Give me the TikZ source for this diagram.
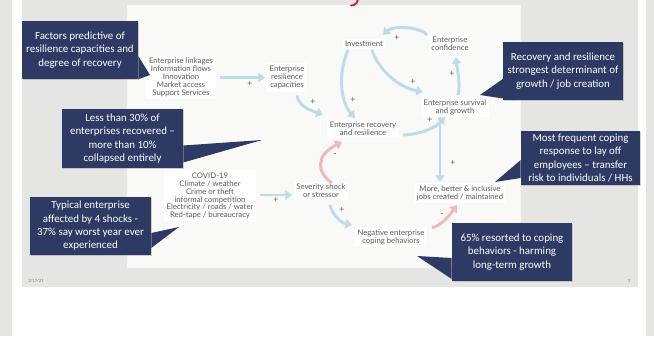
\documentclass[tikz,border=0pt]{standalone}
\usepackage{fontspec}
\setmainfont{Carlito}
\newfontfamily\diagfont{Lato}
\usetikzlibrary{arrows.meta,calc,shadows}
\definecolor{SlideGrey}{HTML}{E5E5E4}
\definecolor{PanelWhite}{HTML}{F9F9F7}
\definecolor{CallNavy}{HTML}{2D3A64}
\definecolor{LoopBlue}{HTML}{BDDCEA}
\definecolor{LoopRed}{HTML}{F1B7BB}
\definecolor{LabelGrey}{HTML}{5A5A5A}
\definecolor{TitleRed}{HTML}{C1272D}

\begin{document}
\begin{tikzpicture}[x=0.75pt,y=-0.75pt,
  factor/.style={fill=white,text=LabelGrey,font=\diagfont\fontsize{5.8}{5.9}\selectfont,align=center,inner sep=2pt},
  sign/.style={text=LabelGrey,font=\diagfont\fontsize{6.5}{6.5}\selectfont,inner sep=0pt},
  insight/.style={fill=CallNavy,text=white,font=\fontsize{8.2}{10}\selectfont,align=center,inner sep=0pt,
    drop shadow={shadow xshift=1pt,shadow yshift=-1pt,opacity=.35}},
  flow/.style={LoopBlue,line width=2.2pt,-{Triangle[width=7pt,length=5pt]}},
  drag/.style={flow,LoopRed}]
\path[use as bounding box] (0,0) rectangle (654,336);
\fill[white] (0,0) rectangle (654,336);
\fill[SlideGrey] (0,0) rectangle (12,336);
\fill[SlideGrey] (646,0) rectangle (654,336);
\fill[SlideGrey] (22,0) rectangle (638,287);
\fill[PanelWhite] (127,5) rectangle (521,268);
% tail of the cut-off title
\draw[TitleRed,line width=1.4pt,line cap=round] (358,-1) .. controls (357.5,3) and (355,5.5) .. (351,5.5);
\node[text=LabelGrey!80,font=\fontsize{3.5}{4}\selectfont,inner sep=0pt] (date) at (36,281) {2/17/21};
\node[text=LabelGrey!80,font=\fontsize{3.5}{4}\selectfont,inner sep=0pt] (pgno) at (629,281) {3};

\node[factor] (link) at (181,77.5) {Enterprise linkages\\Information flows\\Innovation\\Market access\\Support Services};
\node[factor] (cap) at (287,77.5) {Enterprise\\resilience\\capacities};
\node[factor] (rec) at (363,129) {Enterprise recovery\\and resilience};
\node[factor] (inv) at (364,44) {Investment};
\node[factor] (conf) at (450,44) {Enterprise\\confidence};
\node[factor] (surv) at (455,107) {Enterprise survival\\and growth};
\node[factor] (jobs) at (460,193) {More, better \& inclusive\\jobs created / maintained};
\node[factor] (sev) at (321,191) {Severity shock\\or stressor};
\node[factor] (neg) at (391,237) {Negative enterprise\\coping behaviors};
\node[factor] (covid) at (210,196) {COVID-19\\Climate / weather\\Crime or theft\\informal competition\\Electricity / roads / water\\Red-tape / bureaucracy};

\draw[flow] ($(link)+(39,0)$) -- ($(cap)+(-22,0)$);
\draw[flow] ($(cap)+(10,18)$) .. controls +(2,12) and +(-10,-4) .. ($(rec)+(-40,-14)$);
\draw[flow] ($(inv)+(-16,6)$) .. controls +(-9,20) and +(-16,-18) .. ($(rec)+(-8,-11)$);
\draw[flow] ($(inv)+(8,6)$) .. controls +(6,20) and +(-23,-4) .. ($(surv)+(-32,-15)$);
\draw[flow] ($(conf)+(-23,-9)$) .. controls +(-7,-9) and +(9,-9) .. ($(inv)+(19,-9)$);
\draw[flow] ($(surv)+(3,-12)$) .. controls +(3,-12) and +(1,12) .. ($(conf)+(6,13)$);
\draw[flow] ($(rec)+(40,6)$) .. controls +(20,-1) and +(-9,10) .. ($(surv)+(-10,10)$);
\draw[flow] ($(surv)+(-15,10)$) -- ($(jobs)+(-20,-11)$);
\draw[flow] ($(covid)+(50,-1)$) -- ($(sev)+(-29,4)$);
\draw[drag] ($(sev)+(11,-8)$) .. controls +(-16,-11) and +(-26,13) .. ($(rec)+(-21,13)$);
\draw[flow] ($(sev)+(9,14)$) .. controls +(2,10) and +(-10,-2) .. ($(neg)+(-39,-12)$);
\draw[drag] ($(neg)+(41,-9)$) .. controls +(12,-4) and +(-6,8) .. ($(jobs)+(-3,12)$);

\node[sign] (s1) at (250,84) {+};
\node[sign] (s2) at (313,102) {+};
\node[sign] (s3) at (353,100) {+};
\node[sign] (s4) at (413,82) {+};
\node[sign] (s5) at (397,38) {+};
\node[sign] (s6) at (452,74) {+};
\node[sign] (s7) at (430,120) {+};
\node[sign] (s8) at (453,163) {+};
\node[sign] (s9) at (276,200) {+};
\node[sign] (m1) at (335,155) {-};
\node[sign] (s10) at (342,210) {+};
\node[sign] (m2) at (442,215) {-};

\node[insight,minimum width=87pt,minimum height=43.5pt] (c1) at (80,50) {Factors predictive of\\resilience capacities and\\degree of recovery};
\coordinate (c1tip) at (150,75);
\fill[CallNavy] ($(c1.east)+(0,6)$) -- (c1tip) -- (c1.south east) -- cycle;
\node[insight,minimum width=90pt,minimum height=43.5pt] (c2) at (563,71) {Recovery and resilience\\strongest determinant of\\growth / job creation};
\coordinate (c2tip) at (480,95);
\fill[CallNavy] ($(c2.west)+(0,8)$) -- (c2tip) -- ($(c2.south west)+(12,0)$) -- cycle;
\node[insight,minimum width=90.75pt,minimum height=44.25pt] (c3) at (122.5,138.5) {Less than 30\% of\\enterprises recovered --\\more than 10\%\\collapsed entirely};
\coordinate (c3tip) at (262,140);
\fill[CallNavy] ($(c3.east)+(0,7)$) -- (c3tip) -- ($(c3.east)+(0,24)$) -- cycle;
\node[insight,minimum width=90.75pt,minimum height=43.5pt] (c4) at (90.5,226) {Typical enterprise\\affected by 4 shocks -\\37\% say worst year ever\\experienced};
\coordinate (c4tip) at (179,227);
\fill[CallNavy] ($(c4.east)+(0,7)$) -- (c4tip) -- ($(c4.east)+(0,22)$) -- cycle;
\node[insight,minimum width=89.25pt,minimum height=40.5pt] (c5) at (580.5,158) {Most frequent coping\\response to lay off\\employees -- transfer\\risk to individuals / HHs};
\coordinate (c5tip) at (495,182);
\fill[CallNavy] ($(c5.west)+(0,2)$) -- (c5tip) -- ($(c5.west)+(0,20)$) -- cycle;
\node[insight,minimum width=90pt,minimum height=43.5pt] (c6) at (512,252) {65\% resorted to coping\\behaviors - harming\\long-term growth};
\coordinate (c6tip) at (417,256);
\fill[CallNavy] ($(c6.west)+(0,6)$) -- (c6tip) -- ($(c6.west)+(0,27)$) -- cycle;
\end{tikzpicture}
\end{document}
